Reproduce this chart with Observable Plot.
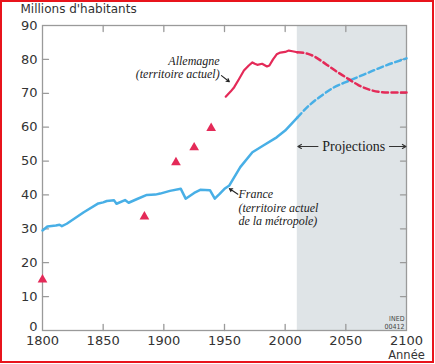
<!DOCTYPE html>
<html>
<head>
<meta charset="utf-8">
<script src="https://cdn.jsdelivr.net/npm/d3@7"></script>
<script src="https://cdn.jsdelivr.net/npm/@observablehq/plot@0.6"></script>
<style>
  html, body { margin: 0; padding: 0; background: #fff; }
  #wrap { position: relative; width: 435px; height: 364px; }
  #border { position: absolute; left: 0; top: 0; width: 434px; height: 363px; box-sizing: border-box; border: 2px solid #e8141c; }
  #chart { position: absolute; left: 0; top: 0; }
</style>
</head>
<body>
<div id="wrap"><div id="border"></div><div id="chart"></div></div>
<script>
// France (territoire actuel de la métropole), historical
const franceYears = [1800,1804,1811,1814,1816,1820,1834,1846,1850,1853,1859,1861,1868,1871,1878,1886,1893,1897,1905,1914,1918,1925,1930,1938,1942,1946,1950,1954,1963,1973,1982,1993,2000,2005,2010];
const franceValues = [29.5,30.7,31.0,31.2,30.8,31.5,34.9,37.5,37.8,38.2,38.4,37.4,38.5,37.7,38.8,40.0,40.1,40.4,41.2,41.8,38.9,40.6,41.5,41.4,38.9,40.3,41.8,42.8,48.2,52.6,54.6,57.0,59.0,60.9,62.8];
// France projections
const franceProjYears = [2010,2020,2030,2040,2050,2060,2070,2080,2090,2100];
const franceProjValues = [62.8,66.5,69.3,71.7,73.3,74.8,76.3,77.8,79.1,80.3];
// Allemagne (territoire actuel), historical
const germanyYears = [1951,1955,1958,1962,1966,1970,1973,1975,1977,1981,1985,1987,1990,1993,1996,2000,2003,2006,2010];
const germanyValues = [69.0,70.5,71.8,74.2,76.7,78.2,79.1,78.7,78.4,78.7,77.9,78.2,80.0,81.5,82.0,82.2,82.6,82.4,82.1];
// Allemagne projections
const germanyProjYears = [2010,2020,2030,2040,2050,2060,2070,2080,2090,2100];
const germanyProjValues = [82.1,81.5,79.5,77.0,74.7,72.5,71.0,70.3,70.2,70.2];
// Allemagne, early estimates (triangles)
const germanyPointYears = [1800,1884,1910,1925,1939];
const germanyPointValues = [15.0,33.6,49.6,54.0,59.7];
// Axes
const xTicks = [1800,1850,1900,1950,2000,2050,2100];
const xInnerTicks = [1850,1900,1950,2000,2050];
const yTicks = [10,20,30,40,50,60,70,80,90];
const yZeroTick = [0];
const yInnerTicks = [10,20,30,40,50,60,70,80];
const projectionSpan = [2010, 2100];

const zip = (xs, ys) => xs.map((x, i) => ({x, y: ys[i]}));
const france = zip(franceYears, franceValues);
const franceProj = zip(franceProjYears, franceProjValues);
const germany = zip(germanyYears, germanyValues);
const germanyProj = zip(germanyProjYears, germanyProjValues);
const germanyPts = zip(germanyPointYears, germanyPointValues);

const BLUE = "#48afe6";
const RED = "#e42a58";
const AXIS = "#9a9a9a";
const SERIF = "'Liberation Serif', serif";
const line = {draw(context, l) { context.moveTo(0, 0); context.lineTo(0, -l); }};

const chart = Plot.plot({
  width: 435, height: 364,
  marginLeft: 42, marginRight: 29, marginTop: 25, marginBottom: 34,
  x: {domain: [1800, 2100]},
  y: {domain: [0, 90]},
  style: {background: "transparent", fontFamily: "'DejaVu Sans', sans-serif", fontSize: "13px", color: "#333"},
  marks: [
    Plot.rect([{x1: projectionSpan[0], x2: projectionSpan[1]}], {x1: "x1", x2: "x2", fill: "#dfe4e7"}),
    Plot.frame({stroke: AXIS, strokeWidth: 1.3}),
    // inward ticks
    Plot.vector(xInnerTicks, {x: d => d, frameAnchor: "bottom", anchor: "start", length: 6, rotate: 0, shape: line, stroke: AXIS, strokeWidth: 1.3}),
    Plot.vector(xInnerTicks, {x: d => d, frameAnchor: "top", anchor: "start", length: 6, rotate: 180, shape: line, stroke: AXIS, strokeWidth: 1.3}),
    Plot.vector(yInnerTicks, {y: d => d, frameAnchor: "left", anchor: "start", length: 6, rotate: 90, shape: line, stroke: AXIS, strokeWidth: 1.3}),
    Plot.vector(yInnerTicks, {y: d => d, frameAnchor: "right", anchor: "start", length: 6, rotate: 270, shape: line, stroke: AXIS, strokeWidth: 1.3}),
    Plot.axisX(xTicks, {tickSize: 0, tickPadding: 5, tickFormat: d => String(d), label: null, fontSize: 13, fill: "#333"}),
    Plot.axisY(yTicks, {tickSize: 0, tickPadding: 5, label: null, fontSize: 13, fill: "#333"}),
    Plot.axisY(yZeroTick, {tickSize: 0, tickPadding: 5, label: null, fontSize: 13, fill: "#333", dy: -4}),
    // series
    Plot.line(france, {x: "x", y: "y", stroke: BLUE, strokeWidth: 2.5}),
    Plot.line(franceProj, {x: "x", y: "y", stroke: BLUE, strokeWidth: 2.5, strokeDasharray: "6,3.5", curve: "natural"}),
    Plot.line(germany, {x: "x", y: "y", stroke: RED, strokeWidth: 2.2}),
    Plot.line(germanyProj, {x: "x", y: "y", stroke: RED, strokeWidth: 2.5, strokeDasharray: "6,3.5", curve: "natural"}),
    Plot.dot(germanyPts, {x: "x", y: "y", symbol: "triangle", r: 3.6, fill: RED}),
    // annotations
    Plot.text(["Allemagne\n(territoire actuel)"], {x: 1946, y: 77.6, textAnchor: "end", lineAnchor: "middle", lineHeight: 1.08, fontFamily: SERIF, fontStyle: "italic", fontSize: 12, fill: "#222"}),
    Plot.arrow([0], {x1: 1947.5, y1: 75.2, x2: 1954, y2: 73.4, stroke: "#222", strokeWidth: 1.1, headLength: 5}),
    Plot.text(["France\n(territoire actuel\nde la métropole)"], {x: 1961.5, y: 36.3, textAnchor: "start", lineAnchor: "middle", lineHeight: 1.12, fontFamily: SERIF, fontStyle: "italic", fontSize: 12, fill: "#222"}),
    Plot.arrow([0], {x1: 1961, y1: 40.2, x2: 1954, y2: 41.9, stroke: "#222", strokeWidth: 1.1, headLength: 5}),
    Plot.text(["Projections"], {x: (projectionSpan[0] + projectionSpan[1]) / 2 + 1.5, y: 54.3, textAnchor: "middle", fontFamily: SERIF, fontSize: 14, fill: "#222"}),
    Plot.arrow([0], {x1: 2027, y1: 54.3, x2: projectionSpan[0] + 0.5, y2: 54.3, stroke: "#333", strokeWidth: 1.2, headLength: 5}),
    Plot.arrow([0], {x1: 2086, y1: 54.3, x2: projectionSpan[1] - 0.5, y2: 54.3, stroke: "#333", strokeWidth: 1.2, headLength: 5}),
    Plot.text(["INED\n00412"], {frameAnchor: "bottom-right", dx: -2, dy: -2, textAnchor: "end", lineAnchor: "bottom", lineHeight: 1.1, fontFamily: "'Liberation Sans Narrow', 'DejaVu Sans Condensed', sans-serif", fontSize: 7, fill: "#444"}),
    Plot.text(["Millions d'habitants"], {frameAnchor: "top-left", dx: -22, dy: -16, textAnchor: "start", lineAnchor: "middle", fontSize: 12, fill: "#333"}),
    Plot.text(["Année"], {x: 2100, frameAnchor: "bottom", dy: 25, textAnchor: "middle", lineAnchor: "middle", fontSize: 11.5, fill: "#333"})
  ]
});
document.getElementById("chart").appendChild(chart);
</script>
</body>
</html>
